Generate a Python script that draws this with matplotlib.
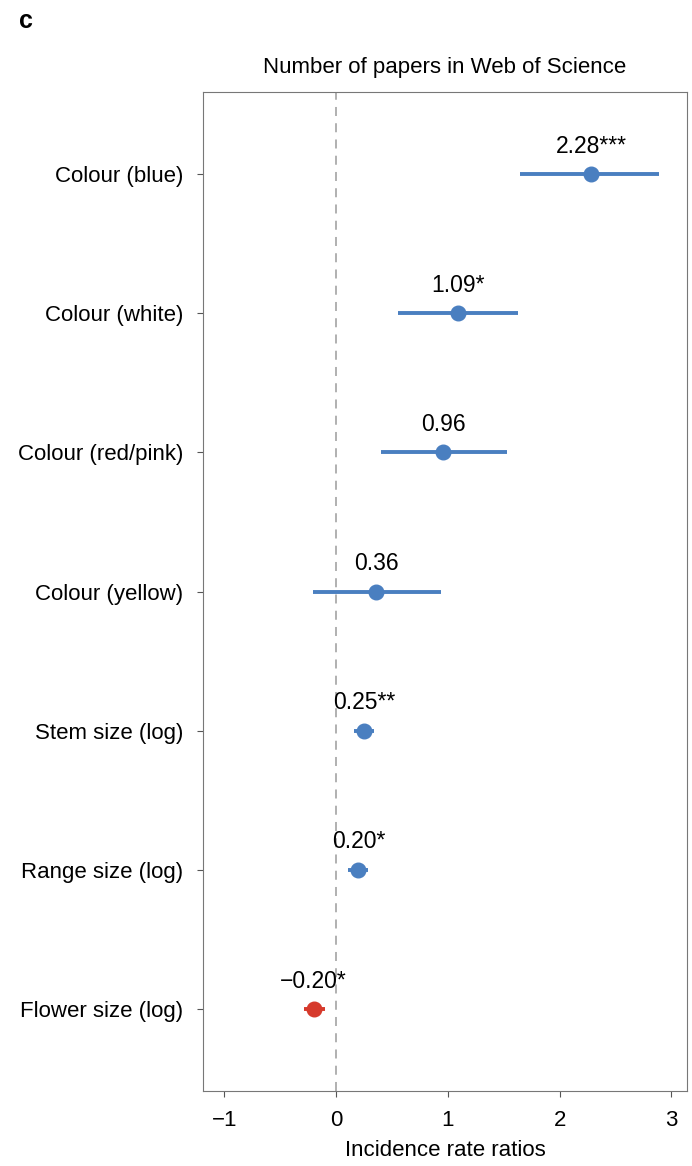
import matplotlib.pyplot as plt

plt.rcParams["font.family"] = ["Liberation Sans", "DejaVu Sans"]

# model terms, top to bottom
terms = [
    "Colour (blue)",
    "Colour (white)",
    "Colour (red/pink)",
    "Colour (yellow)",
    "Stem size (log)",
    "Range size (log)",
    "Flower size (log)",
]
estimates = [2.28, 1.09, 0.96, 0.36, 0.25, 0.20, -0.20]
ci_low = [1.65, 0.55, 0.40, -0.21, 0.16, 0.11, -0.29]
ci_high = [2.89, 1.63, 1.53, 0.94, 0.34, 0.29, -0.10]
stars = ["***", "*", "", "", "**", "*", "*"]

blue = "#4a7fc0"
red = "#d63a2c"

fig = plt.figure(figsize=(6.92, 11.66), dpi=100)
ax = fig.add_axes([0.2934, 0.0643, 0.6994, 0.8568])

ypos = list(range(len(terms), 0, -1))
ax.axvline(0, color="#aaaaaa", linestyle=(0, (5, 4)), linewidth=1.3, zorder=1)

for y, est, lo, hi, s in zip(ypos, estimates, ci_low, ci_high, stars):
    col = blue if est > 0 else red
    ax.plot([lo, hi], [y, y], color=col, linewidth=2.8, solid_capstyle="butt", zorder=2)
    ax.plot(est, y, "o", color=col, markersize=10.5, zorder=3)
    label = f"{est:.2f}".replace("-", "\u2212") + s
    ax.text(est, y + 0.2, label, ha="center", va="center", fontsize=16.5)

ax.set_xlim(-1.19, 3.14)
ax.set_ylim(0.41, 7.59)
ax.set_xticks([-1, 0, 1, 2, 3])
ax.set_xticklabels(["\u22121", "0", "1", "2", "3"])
ax.set_yticks(ypos)
ax.set_yticklabels(terms)
ax.tick_params(axis="both", labelsize=16, length=4, width=0.8, color="#555555")
ax.tick_params(axis="y", pad=10)
ax.tick_params(axis="x", pad=10)
for sp in ax.spines.values():
    sp.set_color("#777777")
    sp.set_linewidth(0.8)

ax.set_xlabel("Incidence rate ratios", fontsize=16, labelpad=6)
ax.set_title("Number of papers in Web of Science", fontsize=16, pad=14)
fig.text(0.038, 0.982, "c", fontsize=18, fontweight="bold", ha="center", va="center")

fig.savefig("out.png", dpi=100)
